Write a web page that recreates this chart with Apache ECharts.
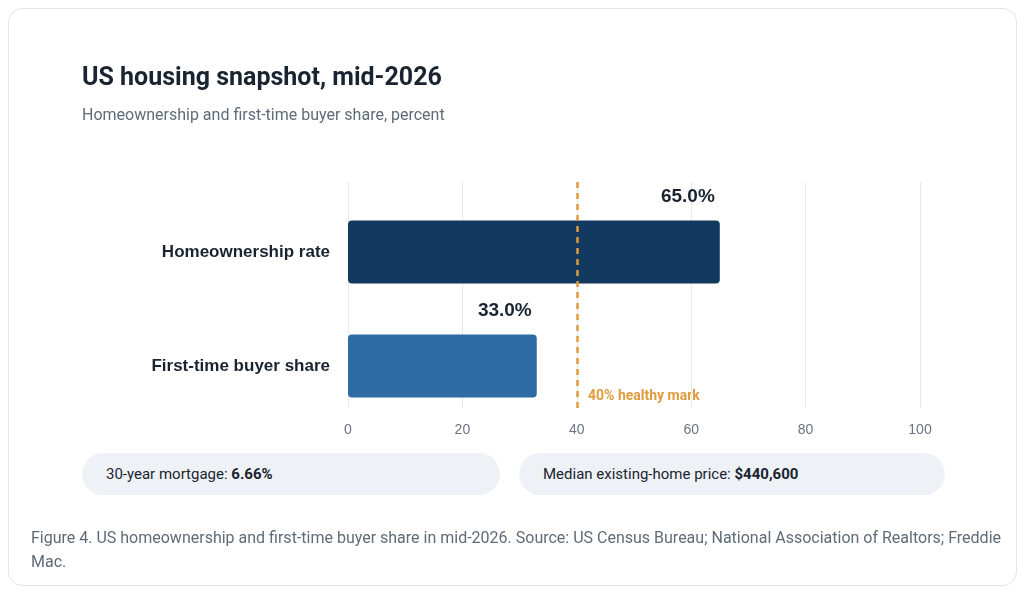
<!DOCTYPE html>
<html>
<head>
<meta charset="utf-8">
<script src="https://cdn.jsdelivr.net/npm/echarts@6/dist/echarts.min.js"></script>
<style>
  html, body { margin: 0; padding: 0; background: #fff; font-family: Roboto, "Noto Sans", Arial, sans-serif; }
  .card { position: absolute; left: 8px; top: 8px; width: 1009px; height: 578px; border: 1px solid #e3e6ea; border-radius: 14px; box-sizing: border-box; }
  #chart { position: absolute; left: 0; top: 0; width: 1024px; height: 592px; }
  .title { position: absolute; left: 82px; top: 62px; font-size: 25px; font-weight: bold; color: #1a2430; }
  .sub { position: absolute; left: 82px; top: 105px; font-size: 16px; color: #5f6b77; }
  .pill { position: absolute; top: 453px; height: 42px; line-height: 42px; background: #eef2f6; border-radius: 21px; font-size: 15px; color: #1a2430; padding-left: 24px; box-sizing: border-box; }
  .cap { position: absolute; left: 31px; top: 526px; width: 970px; font-size: 16px; line-height: 24px; color: #5f6b77; }
</style>
</head>
<body>
<div class="card"></div>
<div id="chart"></div>
<div class="title">US housing snapshot, mid-2026</div>
<div class="sub">Homeownership and first-time buyer share, percent</div>
<div class="pill" style="left:82px;width:418px;">30-year mortgage: <b>6.66%</b></div>
<div class="pill" style="left:519px;width:426px;">Median existing-home price: <b>$440,600</b></div>
<div class="cap">Figure 4. US homeownership and first-time buyer share in mid-2026. Source: US Census Bureau; National Association of Realtors; Freddie Mac.</div>
<script>
// data
const categories = ['Homeownership rate', 'First-time buyer share'];
const values = [65.0, 33.0];
const barColors = ['#12395f', '#2e6aa3'];
const xTicks = [0, 20, 40, 60, 80, 100];
const healthyMark = 40;

const chart = echarts.init(document.getElementById('chart'));
chart.setOption({
  animation: false,
  grid: [
    { left: 348, right: 104, top: 195, bottom: 169 },
    { left: 348, right: 104, top: 182, bottom: 184 }
  ],
  xAxis: [
    {
      gridIndex: 0, type: 'value', min: 0, max: 100, interval: 20,
      axisLine: { show: false }, axisTick: { show: false }, splitLine: { show: false },
      axisLabel: { color: '#6b7480', fontSize: 14, margin: 0,
        formatter: v => xTicks.includes(v) ? String(v) : '' }
    },
    {
      gridIndex: 1, type: 'value', min: 0, max: 100, interval: 20,
      axisLine: { show: false }, axisTick: { show: false }, axisLabel: { show: false },
      splitLine: { lineStyle: { color: '#e6e8eb', width: 1 } }
    }
  ],
  yAxis: [
    {
      gridIndex: 0, type: 'category', data: categories, inverse: true,
      axisLine: { show: false }, axisTick: { show: false },
      axisLabel: { color: '#1a2430', fontSize: 17, fontWeight: 'bold', margin: 18 }
    },
    { gridIndex: 1, type: 'value', show: false, min: 0, max: 1 }
  ],
  series: [
    {
      type: 'bar', xAxisIndex: 0, yAxisIndex: 0, barWidth: 63,
      data: values.map((v, i) => ({ value: v, itemStyle: { color: barColors[i], borderRadius: 4 } })),
      label: { show: true, position: 'insideTopRight', offset: [0, -38], color: '#1a2430',
        fontSize: 19, fontWeight: 'bold', formatter: p => p.value.toFixed(1) + '%' }
    },
    {
      type: 'line', xAxisIndex: 1, yAxisIndex: 1, data: [],
      markLine: {
        silent: true, symbol: 'none', label: { show: false },
        lineStyle: { color: '#e09b3d', type: [6, 5], width: 2.5 },
        data: [{ xAxis: healthyMark }]
      }
    }
  ],
  graphic: [
    { type: 'text', left: 588, top: 389, style: { text: healthyMark + '% healthy mark', fill: '#e09b3d', font: 'bold 14px Roboto, sans-serif' } }
  ]
});
</script>
</body>
</html>
